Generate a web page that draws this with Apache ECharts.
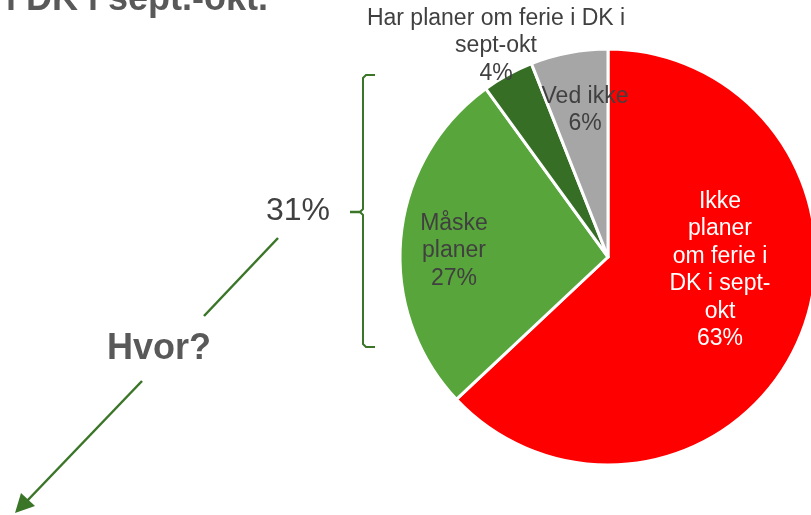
<!DOCTYPE html>
<html>
<head>
<meta charset="utf-8">
<script src="https://cdn.jsdelivr.net/npm/echarts@6/dist/echarts.min.js"></script>
<style>
html,body{margin:0;padding:0;background:#fff;}
#c{width:811px;height:515px;}
</style>
</head>
<body>
<div id="c"></div>
<script>
// Data
var categories = ['Ikke planer om ferie i DK i sept-okt', 'Måske planer', 'Har planer om ferie i DK i sept-okt', 'Ved ikke'];
var labelTexts = ['Ikke\nplaner\nom ferie i\nDK i sept-\nokt', 'Måske\nplaner', 'Har planer om ferie i DK i\nsept-okt', 'Ved ikke'];
var values = [63, 27, 4, 6];
var bracketTotal = '31%';
var titleText = 'i DK i sept.-okt.';
var questionText = 'Hvor?';

// Styling / layout (not data)
var colors = ['#FF0000', '#58A53B', '#376E26', '#A6A6A6'];
var labelColors = ['#FFFFFF', '#404040', '#404040', '#404040'];
var labelPos = [[720, 270], [454, 251], [496, 46], [585, 110]];
var green = '#3A7528';

var chart = echarts.init(document.getElementById('c'), null, {renderer: 'canvas'});

var pieData = categories.map(function (c, i) {
  return {
    name: c,
    value: values[i],
    itemStyle: {color: colors[i]},
    label: {color: labelColors[i]}
  };
});

chart.setOption({
  animation: false,
  backgroundColor: '#fff',
  series: [{
    type: 'pie',
    center: [608, 257],
    radius: [0, 208],
    startAngle: 90,
    clockwise: true,
    avoidLabelOverlap: false,
    itemStyle: {borderColor: '#fff', borderWidth: 3},
    label: {
      show: true,
      position: 'inside',
      fontFamily: 'Liberation Sans, Arial, sans-serif',
      fontSize: 23,
      lineHeight: 27.5,
      align: 'center',
      formatter: function (p) {
        return labelTexts[p.dataIndex] + '\n' + p.value + '%';
      }
    },
    labelLine: {show: false},
    labelLayout: function (params) {
      var pos = labelPos[params.dataIndex];
      return {x: pos[0], y: pos[1], align: 'center', verticalAlign: 'middle'};
    },
    emphasis: {disabled: true},
    data: pieData
  }],
  graphic: [
    {
      type: 'text', left: null, x: 6, y: 0,
      style: {text: titleText, font: 'bold 36px "Liberation Sans", Arial, sans-serif', fill: '#595959', verticalAlign: 'middle', align: 'left'}
    },
    {
      type: 'text', x: 298, y: 211,
      style: {text: bracketTotal, font: '32px "Liberation Sans", Arial, sans-serif', fill: '#404040', verticalAlign: 'middle', align: 'center'}
    },
    {
      type: 'text', x: 159, y: 349,
      style: {text: questionText, font: 'bold 36px "Liberation Sans", Arial, sans-serif', fill: '#595959', verticalAlign: 'middle', align: 'center'}
    },
    // bracket
    {
      type: 'polyline',
      shape: {points: [[375, 75], [366, 75], [363, 78], [363, 209], [360, 212], [363, 215], [363, 344], [366, 347], [375, 347]]},
      style: {stroke: green, lineWidth: 2, fill: null}
    },
    {
      type: 'line',
      shape: {x1: 350, y1: 212, x2: 361, y2: 212},
      style: {stroke: green, lineWidth: 2.5}
    },
    // arrow line segments
    {
      type: 'line',
      shape: {x1: 278, y1: 238, x2: 204, y2: 316},
      style: {stroke: green, lineWidth: 2.5}
    },
    {
      type: 'line',
      shape: {x1: 142, y1: 381, x2: 26, y2: 502},
      style: {stroke: green, lineWidth: 2.5}
    },
    {
      type: 'polygon',
      shape: {points: [[15, 513], [21, 493], [35, 506]]},
      style: {fill: green}
    }
  ]
});
</script>
</body>
</html>
